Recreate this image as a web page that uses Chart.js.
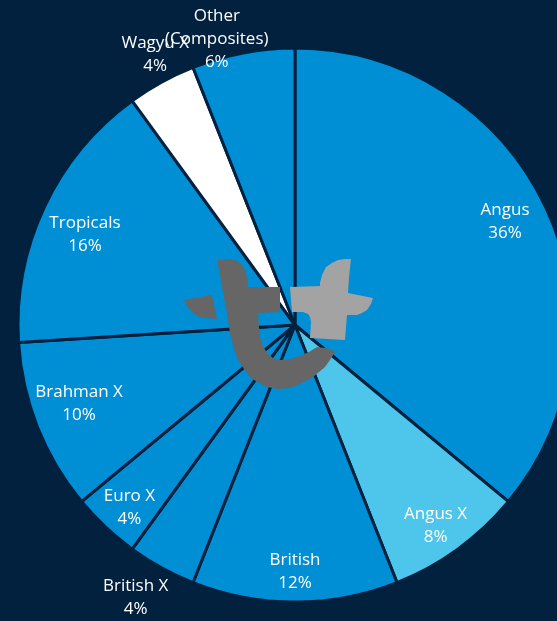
<!DOCTYPE html>
<html>
<head>
<meta charset="utf-8">
<script src="https://cdn.jsdelivr.net/npm/chart.js@4.4.1/dist/chart.umd.min.js"></script>
<style>
  html, body { margin: 0; padding: 0; background: #01213f; overflow: hidden; }
  #wrap { width: 557px; height: 621px; overflow: hidden; }
  canvas { display: block; }
</style>
</head>
<body>
<div id="wrap"><canvas id="breedPie" width="590" height="621"></canvas></div>
<script>
const breeds = ['Angus', 'Angus X', 'British', 'British X', 'Euro X', 'Brahman X', 'Tropicals', 'Wagyu X', 'Other\n(Composites)'];
const shares = [36, 8, 12, 4, 4, 10, 16, 4, 6];
const sliceColours = ['#008ed5', '#4ec6ec', '#008ed5', '#008ed5', '#008ed5', '#008ed5', '#008ed5', '#ffffff', '#008ed5'];

// where each label sits, as a fraction of the radius (small slices go outside)
const labelRadius = [0.845, 0.885, 0.89, 1.14, 0.89, 0.83, 0.825, 1.10, 1.07];
const labelNudge = [-1, 1, 0, 1.5, -1, 1.5, -2, 1.5, -4.5]; // degrees

const navy = '#01213f';

// grey "tt" logo over the pie centre (offsets from the centre)
const logoDark = [[-78,-65],[-65,-66],[-58,-64],[-53,-60],[-50,-55],[-48,-48],[-47,-38],[-15,-38],[-15,-13],[-37,-12],[-36,2],[-35,12],[-32,21],[-28,28],[-22,33],[-15,35],[-5,34],[5,31],[14,27],[22,22],[30,23],[38,25],[40,27],[35,35],[30,42],[18,52],[5,59],[-5,63],[-17,64],[-28,62],[-38,57],[-45,52],[-51,44],[-57,35],[-61,24],[-65,8],[-68,-12],[-72,-32],[-75,-50],[-77,-60]];
const logoDot = [[-111,-25],[-83,-30],[-78,-6],[-88,-7],[-95,-8],[-101,-11],[-105,-15],[-109,-20]];
const logoLight = [[25,-42],[27,-50],[31,-58],[37,-62],[43,-65],[50,-66],[56,-66],[54,-48],[53,-32],[78,-27],[76,-21],[72,-15],[67,-12],[62,-10],[52,-10],[50,15],[15,13],[16,-3],[15,-8],[13,-11],[8,-13],[-3,-13],[-5,-38],[25,-39]];

function fillShape(ctx, pts, cx, cy, colour) {
  ctx.beginPath();
  pts.forEach((p, i) => {
    if (i === 0) ctx.moveTo(cx + p[0], cy + p[1]);
    else ctx.lineTo(cx + p[0], cy + p[1]);
  });
  ctx.closePath();
  ctx.fillStyle = colour;
  ctx.fill();
}

const pieLabels = {
  id: 'pieLabels',
  afterDatasetsDraw(chart) {
    const ctx = chart.ctx;
    const arcs = chart.getDatasetMeta(0).data;
    const cx = arcs[0].x, cy = arcs[0].y;

    ctx.save();
    fillShape(ctx, logoDot, cx, cy, '#666666');
    fillShape(ctx, logoDark, cx, cy, '#666666');
    fillShape(ctx, logoLight, cx, cy, '#a3a3a3');

    ctx.font = '17px "Open Sans"';
    ctx.fillStyle = '#ffffff';
    ctx.textAlign = 'center';
    ctx.textBaseline = 'middle';
    arcs.forEach((arc, i) => {
      const mid = (arc.startAngle + arc.endAngle) / 2 + labelNudge[i] * Math.PI / 180;
      const r = arc.outerRadius * labelRadius[i];
      const x = cx + Math.cos(mid) * r;
      const y = cy + Math.sin(mid) * r;
      const lines = breeds[i].split('\n').concat(shares[i] + '%');
      const lh = 23;
      lines.forEach((txt, k) => {
        ctx.fillText(txt, x, y + (k - (lines.length - 1) / 2) * lh);
      });
    });
    ctx.restore();
  }
};

new Chart(document.getElementById('breedPie'), {
  type: 'pie',
  data: {
    labels: breeds,
    datasets: [{
      data: shares,
      backgroundColor: sliceColours,
      borderColor: navy,
      borderWidth: 3
    }]
  },
  options: {
    responsive: false,
    animation: false,
    radius: 277,
    layout: { padding: { left: 18, right: 18, top: 48, bottom: 19 } },
    plugins: {
      legend: { display: false },
      tooltip: { enabled: false }
    }
  },
  plugins: [pieLabels]
});
</script>
</body>
</html>
